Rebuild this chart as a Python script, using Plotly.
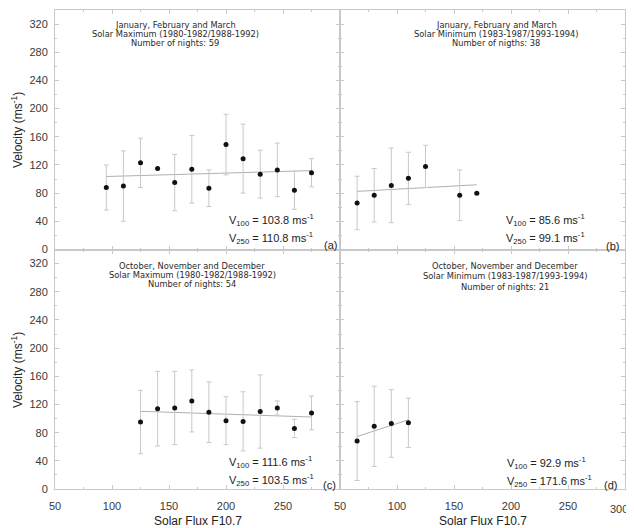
import plotly.graph_objects as go

# ---------------- data ----------------
# Panel (a): Jan-Mar, solar maximum
a_flux = [95, 110, 125, 140, 155, 170, 185, 200, 215, 230, 245, 260, 275]
a_vel = [88, 90, 123, 115, 95, 114, 87, 149, 129, 107, 113, 84, 109]
a_err = [32, 50, 35, 0, 40, 48, 26, 43, 49, 34, 38, 27, 20]
a_fit_x = [95, 275]
a_fit_y = [103.6, 112.0]

# Panel (b): Jan-Mar, solar minimum
b_flux = [65, 80, 95, 110, 125, 155, 170]
b_vel = [66, 77, 91, 101, 118, 77, 80]
b_err = [38, 38, 53, 37, 30, 36, 0]
b_fit_x = [65, 170]
b_fit_y = [82.5, 91.9]

# Panel (c): Oct-Dec, solar maximum
c_flux = [125, 140, 155, 170, 185, 200, 215, 230, 245, 260, 275]
c_vel = [95, 114, 115, 125, 109, 97, 96, 110, 115, 86, 108]
c_err = [45, 53, 52, 44, 43, 34, 42, 52, 10, 13, 24]
c_fit_x = [125, 275]
c_fit_y = [110.3, 102.2]

# Panel (d): Oct-Dec, solar minimum
d_flux = [65, 80, 95, 110]
d_vel = [68, 89, 93, 94]
d_err = [56, 57, 48, 35]
d_fit_x = [65, 110]
d_fit_y = [74.5, 98.2]

headers = {
    "a": ["January, February and March", "Solar Maximum (1980-1982/1988-1992)", "Number of nights: 59"],
    "b": ["January, February and March", "Solar Minimum (1983-1987/1993-1994)", "Number of nigths: 38"],
    "c": ["October, November and December", "Solar Maximum (1980-1982/1988-1992)", "Number of nights: 54"],
    "d": ["October, November and December", "Solar Minimum (1983-1987/1993-1994)", "Number of nights: 21"],
}
v100 = {"a": "103.8", "b": "85.6", "c": "111.6", "d": "92.9"}
v250 = {"a": "110.8", "b": "99.1", "c": "103.5", "d": "171.6"}

x_ticks = [50, 100, 150, 200, 250, 300]
y_ticks = [0, 40, 80, 120, 160, 200, 240, 280, 320]

# ---------------- figure ----------------
OFF = 8                      # page body margin
W, H = 634 - OFF, 528 - OFF
ML, MR, MT, MB = 55 - OFF, 9, 10 - OFF, 39
PW, PH = W - ML - MR, H - MT - MB

def px(x):   # page pixel -> paper
    return (x - OFF - ML) / PW

def py(y):
    return (H - MB - (y - OFF)) / PH

fig = go.Figure()

panels = [
    ("a", a_flux, a_vel, a_err, a_fit_x, a_fit_y, "x", "y"),
    ("b", b_flux, b_vel, b_err, b_fit_x, b_fit_y, "x2", "y2"),
    ("c", c_flux, c_vel, c_err, c_fit_x, c_fit_y, "x3", "y3"),
    ("d", d_flux, d_vel, d_err, d_fit_x, d_fit_y, "x4", "y4"),
]

for key, fx, fv, fe, lx, ly, xa, ya in panels:
    fig.add_trace(go.Scatter(x=lx, y=ly, mode="lines", xaxis=xa, yaxis=ya,
                             line=dict(color="#b0b0b0", width=1), showlegend=False,
                             hoverinfo="skip"))
    fig.add_trace(go.Scatter(x=fx, y=fv, mode="markers", xaxis=xa, yaxis=ya,
                             marker=dict(color="#111111", size=5),
                             error_y=dict(type="data", array=fe, visible=True,
                                          color="#c8c8c8", thickness=1, width=2.5),
                             showlegend=False))

axis_common = dict(
    showline=True, linecolor="#c8c8c8", linewidth=1, mirror="ticks",
    ticks="inside", ticklen=4, tickcolor="#c8c8c8", tickwidth=1,
    showgrid=False, zeroline=False,
    tickfont=dict(family="Liberation Sans, Arial", size=11, color="#3a3a3a"),
)

x_tick_text = ["50", "100", "150", "200", "250", ""]

def xaxis(domain, anchor, show):
    return dict(axis_common, domain=domain, anchor=anchor, range=[50, 300],
                tickmode="array", tickvals=x_ticks, ticktext=x_tick_text,
                showticklabels=show, ticklabelstandoff=7,
                minor=dict(ticks="inside", ticklen=2, dtick=25, tick0=0, tickcolor="#c8c8c8"))

def yaxis(domain, anchor, show):
    return dict(axis_common, domain=domain, anchor=anchor, range=[0, 340],
                tickmode="array", tickvals=y_ticks, ticktext=[str(v) for v in y_ticks],
                showticklabels=show, ticklabelstandoff=4,
                minor=dict(ticks="inside", ticklen=2, dtick=20, tick0=0, tickcolor="#c8c8c8"))

fig.update_layout(
    width=W, height=H,
    margin=dict(l=ML, r=MR, t=MT, b=MB, pad=0),
    paper_bgcolor="white", plot_bgcolor="white",
    xaxis=xaxis([0, 0.5], "y", False),
    yaxis=yaxis([0.5, 1], "x", True),
    xaxis2=xaxis([0.5, 1], "y2", False),
    yaxis2=yaxis([0.5, 1], "x2", False),
    xaxis3=xaxis([0, 0.5], "y3", True),
    yaxis3=yaxis([0, 0.5], "x3", True),
    xaxis4=xaxis([0.5, 1], "y4", True),
    yaxis4=yaxis([0, 0.5], "x4", False),
)

ann = []
hdr_font = dict(family="DejaVu Sans", size=8.3, color="#2a2a2a")
hdr_pos = {
    "a": (175, [24.9, 33.7, 42.5]),
    "b": (496, [24.9, 33.7, 42.5]),
    "c": (192, [265.5, 274.5, 283.5]),
    "d": (505, [265.5, 276.0, 286.5]),
}
for key, (cx, ys) in hdr_pos.items():
    for line, yy in zip(headers[key], ys):
        ann.append(dict(text=line, x=px(cx), y=py(yy), xref="paper", yref="paper",
                        xanchor="center", yanchor="middle", showarrow=False, font=hdr_font))

v_font = dict(family="Liberation Sans, Arial", size=11, color="#222222")
v_pos = {
    "a": (227, 220, 238, 330, 245),
    "b": (504, 220, 238, 612, 246),
    "c": (227, 462, 480, 329, 485),
    "d": (505, 463, 481, 610, 485),
}
for key, (vx, y1, y2, lx, lyy) in v_pos.items():
    ann.append(dict(text=f"V<sub>100</sub> = {v100[key]} ms<sup>-1</sup>", x=px(vx), y=py(y1),
                    xref="paper", yref="paper", xanchor="left", yanchor="middle",
                    showarrow=False, font=v_font))
    ann.append(dict(text=f"V<sub>250</sub> = {v250[key]} ms<sup>-1</sup>", x=px(vx), y=py(y2),
                    xref="paper", yref="paper", xanchor="left", yanchor="middle",
                    showarrow=False, font=v_font))
    ann.append(dict(text=f"({key})", x=px(lx), y=py(lyy), xref="paper", yref="paper",
                    xanchor="center", yanchor="middle", showarrow=False, font=v_font))

# last x tick label of the lower-right panel sits at the page edge
ann.append(dict(text=str(x_ticks[-1]), x=px(629), y=py(509), xref="paper", yref="paper",
                xanchor="right", yanchor="middle", showarrow=False, borderpad=0,
                font=dict(family="Liberation Sans, Arial", size=11, color="#3a3a3a")))

t_font = dict(family="Liberation Sans, Arial", size=12, color="#222222")
for yy in (130, 370):
    ann.append(dict(text="Velocity (ms<sup>-1</sup>)", x=px(17), y=py(yy), xref="paper", yref="paper",
                    xanchor="center", yanchor="middle", textangle=-90, showarrow=False, font=t_font))
for xx in (197.5, 482.5):
    ann.append(dict(text="Solar Flux F10.7", x=px(xx), y=py(520.5), xref="paper", yref="paper",
                    xanchor="center", yanchor="middle", showarrow=False,
                    font=dict(family="Liberation Sans, Arial", size=12, color="#222222")))

fig.update_layout(annotations=ann)
fig.write_html("out.html")
